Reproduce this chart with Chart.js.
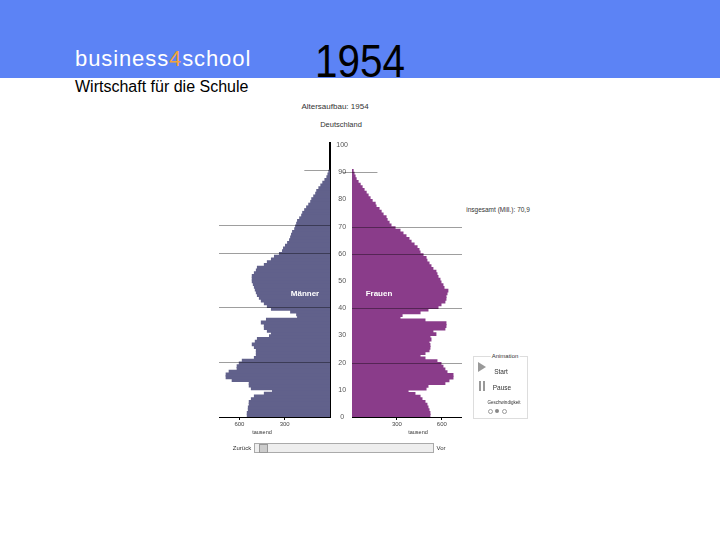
<!DOCTYPE html>
<html>
<head>
<meta charset="utf-8">
<script src="https://cdn.jsdelivr.net/npm/chart.js@4"></script>
<style>
  body { margin:0; width:720px; height:540px; background:#fff; position:relative; overflow:hidden; font-family:"Liberation Sans", Arial, sans-serif; }
  .abs { position:absolute; white-space:nowrap; }
  #band { position:absolute; left:0; top:0; width:720px; height:78px; background:#5c83f5; }
  canvas { position:absolute; }
  .tiny { color:#333; transform:translate(-50%,-50%); }
</style>
</head>
<body>
<div id="band"></div>
<div class="abs" style="left:75px; top:46px; font-size:22px; letter-spacing:0.9px; color:#fff;">business<span style="color:#f2a33a">4</span>school</div>
<div class="abs" style="left:75px; top:78px; font-size:16px; color:#000;">Wirtschaft für die Schule</div>
<div class="abs" style="left:315px; top:33px; font-size:47px; color:#000; transform:scaleX(0.86); transform-origin:left top;">1954</div>

<div class="abs tiny" style="left:335px; top:106px; font-size:8px;">Altersaufbau: 1954</div>
<div class="abs tiny" style="left:341px; top:124px; font-size:7.5px;">Deutschland</div>
<div class="abs tiny" style="left:498px; top:209px; font-size:6.5px;">insgesamt (Mill.): 70,9</div>

<canvas id="men" width="112" height="296" style="left:219px; top:137px;"></canvas>
<canvas id="women" width="132" height="296" style="left:330px; top:137px;"></canvas>

<div class="abs tiny" style="left:305px; top:293px; font-size:8px; font-weight:bold; color:#fff;">Männer</div>
<div class="abs tiny" style="left:379px; top:293px; font-size:8px; font-weight:bold; color:#fff;">Frauen</div>
<div class="abs tiny" style="left:262px; top:432px; font-size:5.5px;">tausend</div>
<div class="abs tiny" style="left:418px; top:432px; font-size:5.5px;">tausend</div>

<!-- animation panel -->
<div class="abs" style="left:473px; top:356px; width:53px; height:61px; border:1px solid #ddd;"></div>
<div class="abs tiny" style="left:505px; top:356px; font-size:6px; background:#fff; padding:0 1px;">Animation</div>
<div class="abs" style="left:478px; top:362px; width:0; height:0; border-top:5px solid transparent; border-bottom:5px solid transparent; border-left:8px solid #999;"></div>
<div class="abs tiny" style="left:501px; top:371px; font-size:6.5px;">Start</div>
<div class="abs" style="left:479px; top:381px; width:2px; height:10px; background:#999;"></div>
<div class="abs" style="left:483px; top:381px; width:2px; height:10px; background:#999;"></div>
<div class="abs tiny" style="left:502px; top:387px; font-size:6.5px;">Pause</div>
<div class="abs tiny" style="left:504px; top:402px; font-size:4.5px;">Geschwindigkeit</div>
<div class="abs" style="left:488px; top:409px; width:3px; height:3px; border:1px solid #999; border-radius:50%;"></div>
<div class="abs" style="left:495px; top:409px; width:4px; height:4px; background:#888; border-radius:50%;"></div>
<div class="abs" style="left:502px; top:409px; width:3px; height:3px; border:1px solid #999; border-radius:50%;"></div>

<!-- slider -->
<div class="abs tiny" style="left:242px; top:448px; font-size:6px;">Zurück</div>
<div class="abs" style="left:254px; top:443px; width:178px; height:8px; background:#eee; border:1px solid #aaa;"></div>
<div class="abs" style="left:259px; top:444px; width:7px; height:7px; background:#ccc; border:1px solid #999;"></div>
<div class="abs tiny" style="left:441px; top:448px; font-size:6px;">Vor</div>

<script>
// population 1954 in thousands, index = age 0..90
const men = [
  547,547,540,540,534,534,520,500,434,380,
  520,534,534,647,687,687,667,614,614,600,
  580,500,487,487,487,500,514,494,480,400,
  387,414,434,434,454,420,214,220,260,387,
  414,434,454,467,480,487,494,500,507,514,
  514,514,500,487,480,434,414,387,367,334,
  314,307,294,280,267,260,254,247,233,227,
  220,214,200,187,180,167,154,140,127,120,
  107,94,87,73,60,47,33,20,13,7
]
const women = [
  520,520,514,507,500,487,467,454,420,374,
  494,507,620,647,674,674,634,620,607,594,
  567,487,454,487,514,520,520,514,527,520,
  560,540,620,627,627,487,320,334,454,507,
  574,594,620,627,627,634,640,614,607,594,
  587,574,567,560,540,527,514,500,494,474,
  454,447,434,414,394,380,360,340,320,287,
  260,247,234,227,207,194,180,160,154,134,
  120,107,94,80,67,54,40,27,20,13,7
]
const xTicks = [300, 600]
const xMax = 735
const ageTicks = 10
const lineAges = [20, 40, 60, 70]

const menColor = '#61618b'
const womenColor = '#8a3c8a'

function toPoints(arr){
  return arr.map((v, age) => ({ x: v, y: age + 0.5 }))
}

// thin grey age lines drawn on top of the bars
const ageLines = {
  id: 'ageLines',
  afterDatasetsDraw(chart, args, opts){
    const { ctx, chartArea, scales } = chart
    ctx.save()
    ctx.strokeStyle = 'rgba(0,0,0,0.38)'
    ctx.lineWidth = 1
    lineAges.forEach((a) => {
      const y = Math.round(scales.y.getPixelForValue(a)) + 0.5
      ctx.beginPath(); ctx.moveTo(chartArea.left, y); ctx.lineTo(chartArea.right, y); ctx.stroke()
    })
    // short line at 90
    const y90 = Math.round(scales.y.getPixelForValue(90)) + 0.5
    ctx.beginPath()
    ctx.moveTo(scales.x.getPixelForValue(opts.from), y90)
    ctx.lineTo(scales.x.getPixelForValue(opts.to), y90)
    ctx.stroke()
    ctx.restore()
  }
}

function xScale(reverse){
  return {
    type: 'linear', reverse: reverse, min: 0, max: xMax,
    afterBuildTicks: (s) => { s.ticks = [0].concat(xTicks).map(v => ({ value: v })) },
    ticks: { callback: v => (v === 0 ? '' : String(v)), font: { size: 6 }, color: '#444', padding: 1, maxRotation: 0 },
    grid: { drawOnChartArea: false, tickLength: 3, color: (c) => (c.tick && c.tick.value ? '#000' : 'transparent') },
    border: { color: '#000', width: 1 },
    afterFit: (s) => { s.height = 16 }
  }
}

function makeChart(id, data, color, reverse, yAxis, lineOpts){
  return new Chart(document.getElementById(id), {
    type: 'bar',
    data: {
      datasets: [{
        data: toPoints(data),
        backgroundColor: color,
        borderWidth: 0,
        inflateAmount: 0.6,
        barPercentage: 1,
        categoryPercentage: 1,
      }]
    },
    options: {
      indexAxis: 'y',
      responsive: false,
      animation: false,
      layout: { padding: { top: 6, left: 0, right: 0, bottom: 0 } },
      plugins: { legend: { display: false }, tooltip: { enabled: false }, ageLines: lineOpts },
      scales: { x: xScale(reverse), y: yAxis }
    },
    plugins: [ageLines]
  })
}

makeChart('men', men, menColor, true, {
  type: 'linear', position: 'right', min: 0, max: 100, offset: false,
  ticks: { display: false },
  grid: { drawOnChartArea: false, drawTicks: false, offset: false },
  border: { color: '#000', width: 2 },
  afterFit: (s) => { s.width = 1 }
}, { from: 0, to: 170 })

makeChart('women', women, womenColor, false, {
  type: 'linear', position: 'left', min: 0, max: 100, offset: false,
  ticks: { stepSize: ageTicks, font: { size: 7 }, color: '#555', padding: 4, crossAlign: 'center' },
  grid: { drawOnChartArea: false, drawTicks: false, offset: false },
  border: { display: false },
  afterFit: (s) => { s.width = 22 }
}, { from: -62, to: 170 })
</script>
</body>
</html>
